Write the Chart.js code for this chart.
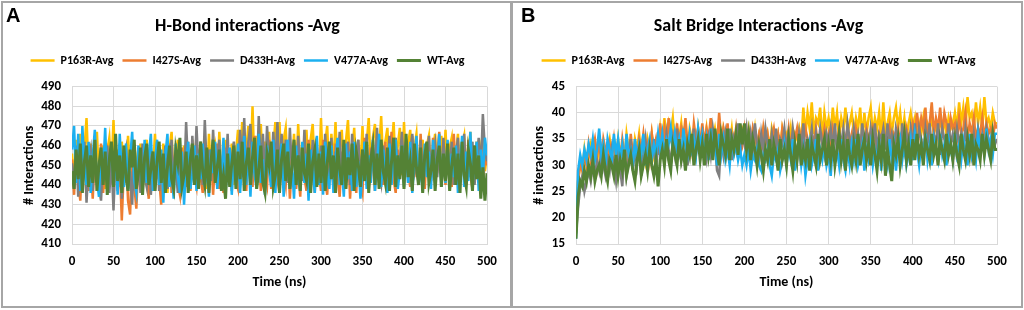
<!DOCTYPE html>
<html>
<head>
<meta charset="utf-8">
<script src="https://cdn.jsdelivr.net/npm/chart.js@4.4.1/dist/chart.umd.min.js"></script>
<style>
    body { margin: 0; background: #fff; width: 1024px; height: 310px; overflow: hidden; }
    .frame { position: absolute; top: 1px; height: 307px; border: 2px solid #a6a6a6; box-sizing: border-box; }
    .panel { position: absolute; top: 0; }
    .letter { position: absolute; top: 4px; font: bold 20px "Liberation Sans", Arial, sans-serif; color: #000; }
</style>
</head>
<body>
<div class="frame" style="left:1px; width:511px;"></div>
<div class="frame" style="left:511px; width:512px;"></div>
<canvas id="graficaHbond" class="panel" style="left:0" width="512" height="310"></canvas>
<canvas id="graficaSalt" class="panel" style="left:512px" width="512" height="310"></canvas>
<div class="letter" style="left:6px">A</div>
<div class="letter" style="left:521px">B</div>
<script>
// Tiempo de simulacion (ns), un punto cada 2.5 ns.
var tiempoNs = [0, 2.5, 5, 7.5, 10, 12.5, 15, 17.5, 20, 22.5, 25, 27.5, 30, 32.5, 35, 37.5, 40, 42.5, 45, 47.5,
    50, 52.5, 55, 57.5, 60, 62.5, 65, 67.5, 70, 72.5, 75, 77.5, 80, 82.5, 85, 87.5, 90, 92.5, 95, 97.5,
    100, 102.5, 105, 107.5, 110, 112.5, 115, 117.5, 120, 122.5, 125, 127.5, 130, 132.5, 135, 137.5, 140, 142.5, 145, 147.5,
    150, 152.5, 155, 157.5, 160, 162.5, 165, 167.5, 170, 172.5, 175, 177.5, 180, 182.5, 185, 187.5, 190, 192.5, 195, 197.5,
    200, 202.5, 205, 207.5, 210, 212.5, 215, 217.5, 220, 222.5, 225, 227.5, 230, 232.5, 235, 237.5, 240, 242.5, 245, 247.5,
    250, 252.5, 255, 257.5, 260, 262.5, 265, 267.5, 270, 272.5, 275, 277.5, 280, 282.5, 285, 287.5, 290, 292.5, 295, 297.5,
    300, 302.5, 305, 307.5, 310, 312.5, 315, 317.5, 320, 322.5, 325, 327.5, 330, 332.5, 335, 337.5, 340, 342.5, 345, 347.5,
    350, 352.5, 355, 357.5, 360, 362.5, 365, 367.5, 370, 372.5, 375, 377.5, 380, 382.5, 385, 387.5, 390, 392.5, 395, 397.5,
    400, 402.5, 405, 407.5, 410, 412.5, 415, 417.5, 420, 422.5, 425, 427.5, 430, 432.5, 435, 437.5, 440, 442.5, 445, 447.5,
    450, 452.5, 455, 457.5, 460, 462.5, 465, 467.5, 470, 472.5, 475, 477.5, 480, 482.5, 485, 487.5, 490, 492.5, 495, 497.5, 500];

var nombresSeries = ['P163R-Avg', 'I427S-Avg', 'D433H-Avg', 'V477A-Avg', 'WT-Avg'];
var coloresSeries = ['#ffc000', '#ed7d31', '#7f7f7f', '#1cb0f0', '#548235'];

// Puentes de hidrogeno (panel A)
var hbondP163R = [456, 442, 463, 448, 466, 440, 458, 474, 445, 461, 439, 455, 467, 443, 452, 460, 438, 457, 464, 446,
    473, 444, 458, 439, 462, 449, 441, 465, 446, 437, 460, 452, 443, 461, 438, 456, 463, 441, 459, 447,
    466, 443, 455, 438, 461, 449, 436, 458, 467, 441, 452, 463, 439, 448, 460, 442, 456, 437, 463, 450,
    464, 440, 457, 445, 461, 438, 466, 443, 452, 459, 441, 467, 446, 440, 463, 449, 445, 461, 440, 456,
    468, 447, 472, 444, 458, 470, 449, 480, 446, 465, 452, 471, 445, 462, 448, 467, 443, 459, 472, 447,
    472, 445, 463, 469, 447, 458, 446, 466, 444, 471, 450, 460, 448, 468, 445, 463, 471, 447, 456, 445,
    474, 447, 461, 470, 443, 466, 449, 472, 446, 458, 468, 448, 462, 473, 447, 455, 469, 446, 463, 448,
    470, 445, 461, 474, 448, 464, 471, 446, 457, 475, 449, 462, 469, 445, 458, 472, 447, 460, 469, 445,
    472, 448, 461, 468, 444, 459, 466, 446, 455, 463, 442, 460, 465, 444, 458, 466, 446, 455, 465, 444,
    468, 445, 459, 464, 443, 456, 466, 442, 460, 465, 444, 457, 467, 443, 455, 462, 441, 458, 467, 447, 455];
var hbondI427S = [453, 435, 459, 441, 432, 456, 447, 460, 437, 451, 433, 458, 444, 438, 461, 436, 452, 457, 440, 449,
    441, 456, 437, 452, 422, 449, 458, 432, 425, 455, 440, 428, 452, 446, 436, 459, 442, 433, 457, 448,
    437, 460, 443, 430, 455, 448, 438, 461, 436, 452, 457, 441, 435, 459, 446, 439, 462, 437, 453, 444,
    439, 457, 444, 436, 462, 448, 440, 458, 435, 453, 461, 438, 447, 436, 459, 443, 455, 437, 460, 442,
    438, 466, 444, 456, 437, 462, 449, 439, 465, 442, 455, 437, 461, 446, 440, 463, 438, 452, 460, 443,
    436, 464, 447, 440, 459, 433, 452, 462, 438, 448, 434, 461, 444, 437, 463, 441, 455, 436, 458, 446,
    437, 463, 442, 435, 458, 450, 439, 461, 444, 434, 457, 446, 438, 462, 433, 454, 447, 436, 460, 441,
    436, 464, 445, 438, 459, 450, 437, 465, 441, 455, 440, 462, 438, 452, 467, 443, 436, 458, 446, 461,
    441, 463, 447, 439, 465, 444, 456, 440, 466, 445, 438, 461, 449, 442, 464, 441, 455, 467, 443, 452,
    440, 462, 446, 439, 466, 443, 455, 442, 461, 448, 440, 463, 445, 438, 460, 449, 441, 459, 438, 455, 450];
var hbondD433H = [451, 438, 460, 434, 455, 446, 462, 431, 452, 458, 437, 463, 441, 449, 432, 457, 445, 460, 436, 454,
    427, 456, 440, 461, 433, 452, 458, 438, 447, 430, 459, 442, 455, 436, 461, 444, 439, 457, 435, 453,
    441, 462, 437, 455, 445, 460, 438, 451, 463, 442, 449, 436, 459, 446, 440, 472, 448, 438, 465, 443,
    470, 446, 462, 440, 473, 447, 458, 442, 468, 445, 452, 463, 441, 457, 444, 466, 440, 453, 462, 446,
    444, 468, 449, 474, 443, 462, 471, 446, 457, 442, 475, 448, 466, 443, 470, 451, 445, 467, 449, 472,
    443, 466, 450, 463, 441, 469, 447, 458, 440, 465, 449, 442, 468, 445, 455, 440, 463, 447, 459, 444,
    460, 441, 466, 448, 443, 464, 440, 457, 449, 467, 442, 455, 444, 462, 440, 466, 446, 452, 463, 441,
    458, 444, 466, 441, 455, 462, 443, 469, 447, 441, 460, 450, 446, 465, 442, 457, 464, 443, 452, 467,
    445, 462, 441, 457, 466, 446, 451, 443, 463, 440, 458, 447, 465, 442, 454, 461, 444, 459, 441, 464,
    443, 458, 447, 462, 440, 455, 464, 442, 450, 466, 441, 457, 444, 462, 440, 453, 464, 446, 476, 458, 452];
var hbondV477A = [458, 470, 441, 466, 437, 470, 449, 440, 462, 436, 455, 468, 443, 434, 459, 447, 469, 438, 452, 461,
    440, 457, 435, 466, 446, 439, 461, 437, 453, 467, 442, 436, 460, 449, 438, 463, 441, 455, 466, 437,
    452, 463, 440, 458, 431, 455, 466, 439, 447, 433, 461, 444, 436, 457, 430, 452, 462, 438, 445, 460,
    437, 456, 443, 461, 439, 450, 434, 458, 446, 462, 438, 453, 441, 464, 437, 449, 459, 435, 455, 442,
    461, 436, 452, 465, 440, 457, 434, 462, 445, 438, 466, 441, 453, 435, 460, 447, 439, 463, 436, 456,
    442, 461, 434, 455, 463, 438, 450, 433, 460, 444, 437, 462, 441, 456, 432, 458, 447, 436, 465, 440,
    457, 435, 462, 445, 438, 460, 436, 453, 464, 440, 449, 434, 461, 443, 457, 437, 462, 439, 452, 433,
    446, 462, 438, 455, 441, 463, 437, 450, 466, 439, 458, 444, 436, 461, 440, 455, 463, 438, 447, 460,
    439, 457, 441, 462, 436, 453, 465, 440, 449, 437, 461, 444, 457, 438, 463, 442, 452, 466, 439, 455,
    441, 463, 438, 456, 444, 460, 436, 451, 465, 439, 457, 442, 467, 440, 453, 462, 437, 458, 444, 464, 455];
var hbondWT = [447, 438, 458, 443, 461, 436, 452, 460, 439, 455, 441, 463, 437, 450, 459, 440, 457, 435, 453, 462,
    439, 466, 442, 455, 436, 460, 444, 437, 458, 449, 463, 438, 446, 459, 435, 454, 461, 440, 448, 457,
    437, 452, 462, 441, 456, 436, 449, 460, 443, 438, 458, 451, 464, 439, 445, 457, 436, 453, 461, 440,
    455, 438, 462, 447, 440, 459, 436, 452, 463, 441, 449, 458, 437, 445, 433, 456, 439, 451, 460, 438,
    457, 443, 462, 437, 451, 459, 440, 454, 464, 438, 447, 460, 441, 436, 456, 450, 462, 439, 445, 458,
    436, 453, 461, 442, 457, 438, 449, 463, 440, 455, 437, 459, 446, 442, 461, 436, 452, 458, 439, 456,
    441, 460, 437, 451, 462, 443, 455, 436, 459, 448, 440, 463, 438, 454, 445, 461, 437, 457, 450, 439,
    458, 442, 462, 436, 453, 460, 440, 456, 438, 463, 447, 441, 459, 437, 452, 464, 439, 455, 443, 460,
    438, 466, 444, 452, 437, 461, 449, 440, 459, 436, 455, 462, 441, 447, 458, 437, 453, 460, 439, 456,
    442, 461, 437, 450, 459, 440, 456, 436, 462, 445, 439, 458, 451, 437, 460, 443, 455, 433, 449, 432, 446];

// Puentes salinos (panel B)
var saltP163R = [17, 27, 31, 29, 33, 30, 32, 34, 31, 33, 30, 35, 32, 34, 31, 33, 35, 32, 34, 31,
    35, 32, 34, 31, 36, 33, 34, 31, 35, 33, 36, 32, 34, 31, 35, 33, 36, 32, 34, 33,
    37, 34, 39, 35, 38, 36, 39, 34, 37, 35, 38, 34, 36, 33, 37, 35, 36, 34, 37, 33,
    36, 34, 37, 33, 36, 35, 37, 34, 36, 33, 37, 35, 36, 34, 37, 33, 35, 36, 34, 37,
    36, 33, 37, 35, 34, 37, 33, 36, 35, 37, 34, 36, 33, 37, 35, 34, 36, 33, 37, 35,
    36, 34, 37, 33, 36, 35, 37, 34, 41, 36, 40, 37, 42, 36, 39, 38, 41, 35, 40, 37,
    39, 36, 41, 37, 40, 35, 39, 37, 41, 36, 38, 40, 36, 39, 37, 41, 35, 40, 36, 39,
    41, 36, 39, 37, 40, 35, 42, 36, 38, 40, 36, 39, 41, 37, 40, 36, 39, 35, 38, 40,
    37, 39, 35, 38, 36, 39, 35, 38, 37, 39, 36, 38, 35, 39, 37, 38, 36, 39, 37, 38,
    40, 37, 42, 38, 41, 37, 43, 39, 40, 37, 42, 38, 41, 37, 43, 38, 39, 37, 40, 38, 38];
var saltI427S = [18, 27, 30, 29, 32, 30, 34, 31, 33, 35, 32, 34, 31, 35, 33, 30, 34, 32, 35, 31,
    34, 31, 35, 32, 33, 30, 36, 32, 34, 31, 35, 33, 36, 32, 34, 31, 36, 33, 35, 32,
    38, 34, 37, 33, 39, 35, 36, 33, 38, 34, 37, 35, 39, 34, 36, 33, 38, 35, 37, 34,
    38, 34, 37, 35, 39, 33, 36, 34, 40, 35, 37, 34, 38, 33, 36, 34, 37, 33, 36, 34,
    37, 34, 36, 33, 37, 35, 34, 36, 33, 37, 34, 36, 33, 35, 37, 34, 36, 33, 37, 35,
    34, 37, 33, 36, 35, 37, 33, 36, 34, 37, 35, 33, 36, 34, 37, 33, 36, 35, 37, 34,
    36, 33, 37, 35, 34, 37, 33, 36, 35, 37, 34, 36, 33, 37, 35, 34, 36, 33, 37, 35,
    34, 37, 35, 33, 36, 34, 37, 35, 33, 37, 34, 36, 35, 37, 34, 36, 33, 37, 35, 36,
    38, 35, 40, 36, 39, 37, 41, 35, 38, 42, 36, 39, 37, 41, 36, 40, 38, 35, 39, 37,
    38, 35, 39, 36, 37, 40, 35, 38, 36, 39, 35, 37, 36, 39, 35, 38, 36, 37, 35, 38, 37];
var saltD433H = [17, 22, 26, 28, 25, 27, 29, 27, 30, 28, 31, 29, 33, 30, 28, 31, 29, 33, 30, 27,
    32, 29, 26, 33, 28, 31, 35, 29, 33, 30, 34, 28, 32, 35, 30, 33, 31, 35, 29, 34,
    32, 35, 31, 36, 33, 30, 35, 32, 37, 33, 31, 36, 34, 30, 35, 33, 37, 32, 35, 33,
    36, 33, 31, 35, 32, 37, 34, 29, 28, 35, 32, 36, 33, 37, 31, 35, 33, 38, 32, 36,
    34, 37, 32, 36, 33, 38, 34, 31, 36, 33, 37, 34, 32, 36, 33, 37, 31, 35, 34, 37,
    33, 36, 32, 37, 34, 31, 36, 33, 38, 32, 35, 34, 37, 32, 36, 33, 37, 34, 32, 36,
    34, 37, 33, 38, 32, 36, 34, 37, 33, 38, 35, 32, 37, 34, 36, 33, 38, 34, 36, 33,
    37, 34, 38, 33, 36, 35, 37, 33, 38, 34, 36, 32, 37, 35, 33, 38, 34, 36, 33, 37,
    34, 38, 33, 37, 35, 32, 37, 34, 38, 33, 36, 34, 38, 32, 37, 35, 33, 38, 34, 36,
    33, 37, 34, 36, 32, 37, 34, 35, 32, 36, 33, 37, 34, 36, 33, 37, 35, 32, 36, 34, 35];
var saltV477A = [16, 29, 32, 30, 33, 31, 34, 32, 35, 31, 33, 37, 32, 34, 30, 35, 33, 31, 36, 32,
    35, 31, 34, 30, 36, 32, 33, 30, 35, 31, 34, 32, 36, 30, 33, 35, 31, 34, 32, 36,
    33, 36, 32, 35, 34, 37, 32, 36, 33, 35, 31, 37, 34, 32, 36, 33, 35, 32, 37, 34,
    36, 32, 35, 31, 37, 33, 34, 30, 36, 32, 35, 31, 33, 30, 35, 32, 34, 31, 33, 30,
    32, 30, 33, 29, 32, 31, 33, 30, 29, 32, 31, 33, 30, 28, 32, 31, 33, 29, 31, 34,
    30, 33, 31, 35, 29, 32, 34, 30, 33, 28, 31, 34, 30, 32, 35, 29, 33, 31, 34, 30,
    32, 28, 34, 31, 33, 30, 35, 31, 29, 33, 30, 34, 31, 35, 30, 32, 34, 29, 33, 31,
    34, 30, 33, 31, 35, 29, 33, 32, 30, 35, 31, 34, 29, 33, 35, 31, 34, 30, 32, 35,
    31, 36, 33, 30, 34, 32, 36, 31, 34, 30, 35, 33, 31, 36, 32, 34, 30, 35, 33, 31,
    36, 32, 34, 31, 35, 33, 30, 36, 32, 34, 31, 36, 33, 35, 32, 37, 33, 35, 32, 36, 36];
var saltWT = [16, 24, 27, 26, 29, 27, 30, 28, 31, 27, 29, 30, 28, 32, 29, 27, 31, 30, 28, 32,
    28, 31, 29, 33, 28, 30, 32, 29, 27, 31, 33, 28, 30, 32, 29, 33, 30, 28, 31, 26,
    31, 33, 30, 35, 31, 29, 34, 32, 30, 35, 31, 33, 29, 34, 32, 36, 30, 33, 35, 31,
    34, 30, 36, 32, 35, 31, 37, 33, 30, 36, 34, 32, 37, 31, 35, 33, 36, 32, 38, 34,
    38, 33, 36, 31, 35, 33, 30, 34, 32, 29, 33, 31, 35, 30, 34, 32, 29, 35, 31, 33,
    30, 35, 32, 29, 34, 31, 36, 30, 33, 31, 35, 29, 34, 32, 30, 36, 31, 33, 35, 30,
    34, 31, 35, 30, 33, 36, 31, 34, 29, 35, 32, 30, 34, 31, 36, 30, 33, 35, 31, 34,
    30, 35, 32, 29, 34, 31, 36, 28, 33, 30, 27, 34, 32, 35, 30, 33, 36, 31, 34, 30,
    35, 31, 36, 32, 34, 30, 35, 33, 31, 36, 32, 34, 30, 35, 33, 31, 36, 32, 34, 31,
    35, 32, 30, 36, 33, 31, 35, 32, 36, 30, 34, 33, 31, 36, 32, 35, 33, 31, 36, 33, 33];

var fuente = 'Carlito, Lato, sans-serif';
var colorTexto = '#000';
var colorRejilla = '#d9d9d9';

// Deja un espacio entre la leyenda y el area de la grafica.
var espacioLeyenda = {
    id: 'espacioLeyenda',
    beforeInit: function (chart) {
        var fitOriginal = chart.legend.fit;
        chart.legend.fit = function () {
            fitOriginal.bind(chart.legend)();
            this.height += chart.options.plugins.espacioLeyenda.extra;
        };
    }
};

// Arma los datasets; el WT se dibuja encima de todos.
function getDataSets(series) {
    var datasets = [];
    for (var i = 0; i < series.length; i++) {
        datasets.push({
            label: nombresSeries[i],
            data: series[i],
            borderColor: coloresSeries[i],
            backgroundColor: coloresSeries[i],
            borderWidth: i == series.length - 1 ? 3 : 2.5,
            pointRadius: 0,
            tension: 0,
            order: series.length - i
        });
    }
    return datasets;
}

// Opciones comunes de las dos graficas.
function getChartOptions(titulo, yTitulo, yMin, yMax, yPaso, anchoY, yTituloPad, derecha) {
    return {
        responsive: false,
        animation: false,
        layout: { padding: { left: 8, right: derecha, top: 0, bottom: 4 } },
        plugins: {
            espacioLeyenda: { extra: 10 },
            title: {
                display: true,
                text: titulo,
                color: colorTexto,
                font: { family: fuente, size: 18, weight: 'bold' },
                padding: { top: 16, bottom: 8 }
            },
            legend: {
                reverse: true,
                labels: {
                    color: colorTexto,
                    font: { family: fuente, size: 12, weight: 'bold' },
                    usePointStyle: true,
                    pointStyle: 'line',
                    pointStyleWidth: 24,
                    padding: 9
                }
            },
            tooltip: { enabled: false }
        },
        scales: {
            x: {
                type: 'linear',
                min: 0,
                max: 500,
                afterFit: function (scale) { scale.height = 62; },
                ticks: {
                    stepSize: 50,
                    maxRotation: 0,
                    padding: 10,
                    color: colorTexto,
                    font: { family: fuente, size: 13, weight: 'bold' }
                },
                grid: { color: colorRejilla, drawTicks: false },
                border: { color: colorRejilla },
                title: {
                    display: true,
                    text: 'Time (ns)',
                    color: colorTexto,
                    font: { family: fuente, size: 14, weight: 'bold' },
                    padding: { top: 0, bottom: 15 }
                }
            },
            y: {
                min: yMin,
                max: yMax,
                afterFit: function (scale) { scale.width = anchoY; },
                ticks: {
                    stepSize: yPaso,
                    padding: 11,
                    color: colorTexto,
                    font: { family: fuente, size: 13, weight: 'bold' }
                },
                grid: { color: colorRejilla, drawTicks: false },
                border: { color: colorRejilla },
                title: {
                    display: true,
                    text: yTitulo,
                    color: colorTexto,
                    font: { family: fuente, size: 14, weight: 'bold' },
                    padding: { top: yTituloPad, bottom: 0 }
                }
            }
        }
    };
}

new Chart(document.getElementById('graficaHbond').getContext('2d'), {
    type: 'line',
    data: {
        labels: tiempoNs,
        datasets: getDataSets([hbondP163R, hbondI427S, hbondD433H, hbondV477A, hbondWT])
    },
    options: getChartOptions('H-Bond interactions -Avg', '# Interactions', 410, 490, 10, 64, 13, 25),
    plugins: [espacioLeyenda]
});

new Chart(document.getElementById('graficaSalt').getContext('2d'), {
    type: 'line',
    data: {
        labels: tiempoNs,
        datasets: getDataSets([saltP163R, saltI427S, saltD433H, saltV477A, saltWT])
    },
    options: getChartOptions('Salt Bridge Interactions -Avg', '# interactions', 15, 45, 5, 56, 11, 27),
    plugins: [espacioLeyenda]
});
</script>
</body>
</html>
